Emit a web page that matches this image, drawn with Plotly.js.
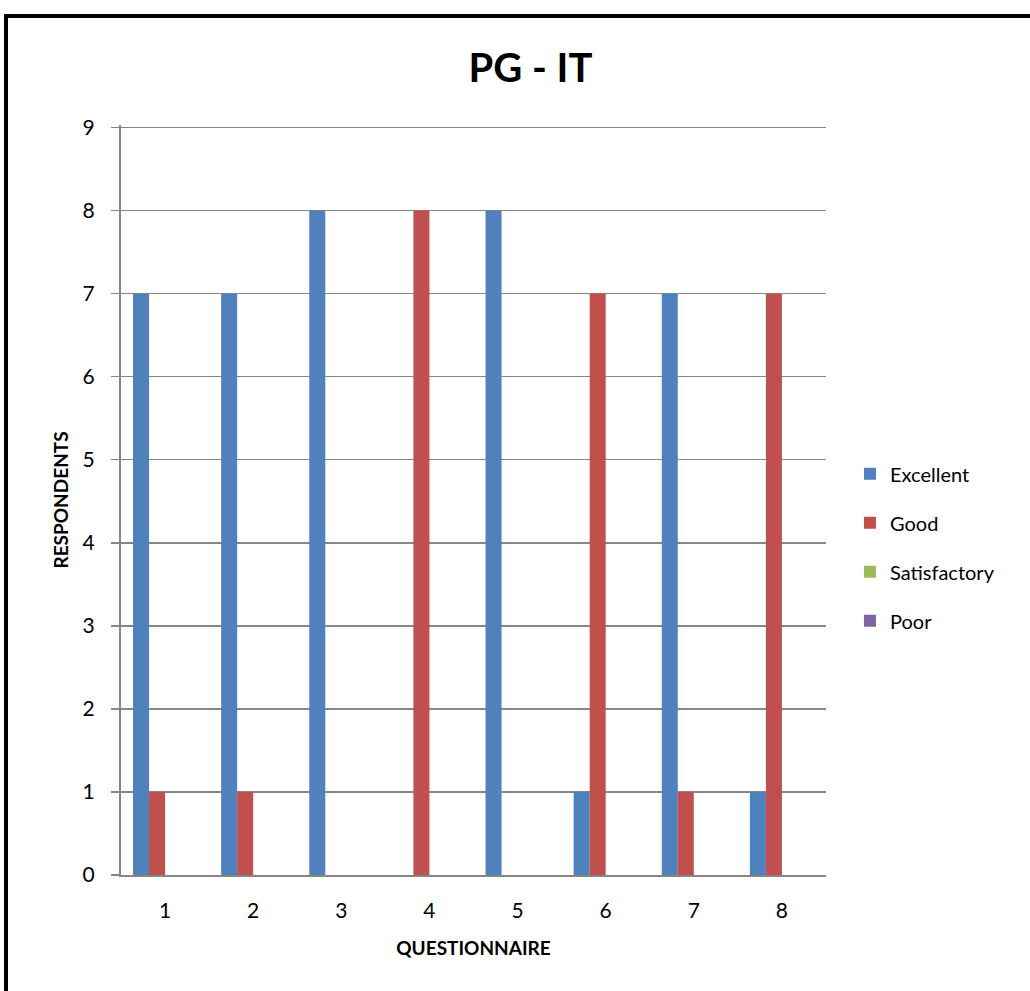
<!DOCTYPE html>
<html><head><meta charset="utf-8">
<script src="https://cdn.plot.ly/plotly-3.0.1.min.js"></script>
<style>
html,body{margin:0;padding:0;width:1030px;height:991px;overflow:hidden;background:#fff;}
#chart{position:absolute;left:0;top:0;width:1030px;height:991px;}
#frame{position:absolute;left:4px;top:14px;width:1100px;height:1100px;border:4px solid #000;pointer-events:none;}
</style></head>
<body>
<div id="chart"></div>
<div id="frame"></div>
<script>
const categories = ['1','2','3','4','5','6','7','8'];
const excellent = [7,7,8,0,8,1,7,1];
const good = [1,1,0,8,0,7,1,7];
const satisfactory = [0,0,0,0,0,0,0,0];
const poor = [0,0,0,0,0,0,0,0];
const seriesNames = ['Excellent','Good','Satisfactory','Poor'];
const yTicks = [0,1,2,3,4,5,6,7,8,9];
const colors = ['#4F81BD','#C0504D','#9BBB59','#8064A2'];
const FONT = 'Lato, "Open Sans", sans-serif';
const vals = [excellent, good, satisfactory, poor];
const traces = vals.map((v,i)=>({
  type:'bar', x:categories, y:v, name:seriesNames[i], legendgroup:'g'+i,
  marker:{color:colors[i]}
}));
const layout = {
  width:1030, height:991,
  margin:{l:121, r:204, t:125, b:116},
  paper_bgcolor:'#fff', plot_bgcolor:'#fff',
  font:{family:FONT, size:21, color:'#000'},
  title:{text:'<b>PG - IT</b>', font:{family:FONT, size:40, color:'#000'}, x:0.515, xanchor:'center', y:0.931, yanchor:'middle'},
  barmode:'group', bargap:0.273, bargroupgap:0,
  xaxis:{type:'category', showline:true, linecolor:'#868686', linewidth:2, ticks:'', showgrid:false,
    tickfont:{size:21}, ticklabelstandoff:16,
    title:{text:'<b>QUESTIONNAIRE</b>', font:{size:19}, standoff:20}},
  yaxis:{range:[0,9.03], tickvals:yTicks, showline:true, linecolor:'#868686', linewidth:2, gridcolor:'#868686', gridwidth:1.5,
    ticks:'outside', ticklen:8, tickcolor:'#868686', tickwidth:1.5, zeroline:false,
    tickfont:{size:21}, ticklabelstandoff:12,
    title:{text:'<b>RESPONDENTS</b>', font:{size:19}, standoff:9}},
  legend:{x:1.034, xanchor:'left', y:0.437, yanchor:'middle', font:{size:20}, tracegroupgap:20, itemwidth:30},
  showlegend:true
};
Plotly.newPlot('chart', traces, layout, {displayModeBar:false, staticPlot:true});
</script>
</body></html>
